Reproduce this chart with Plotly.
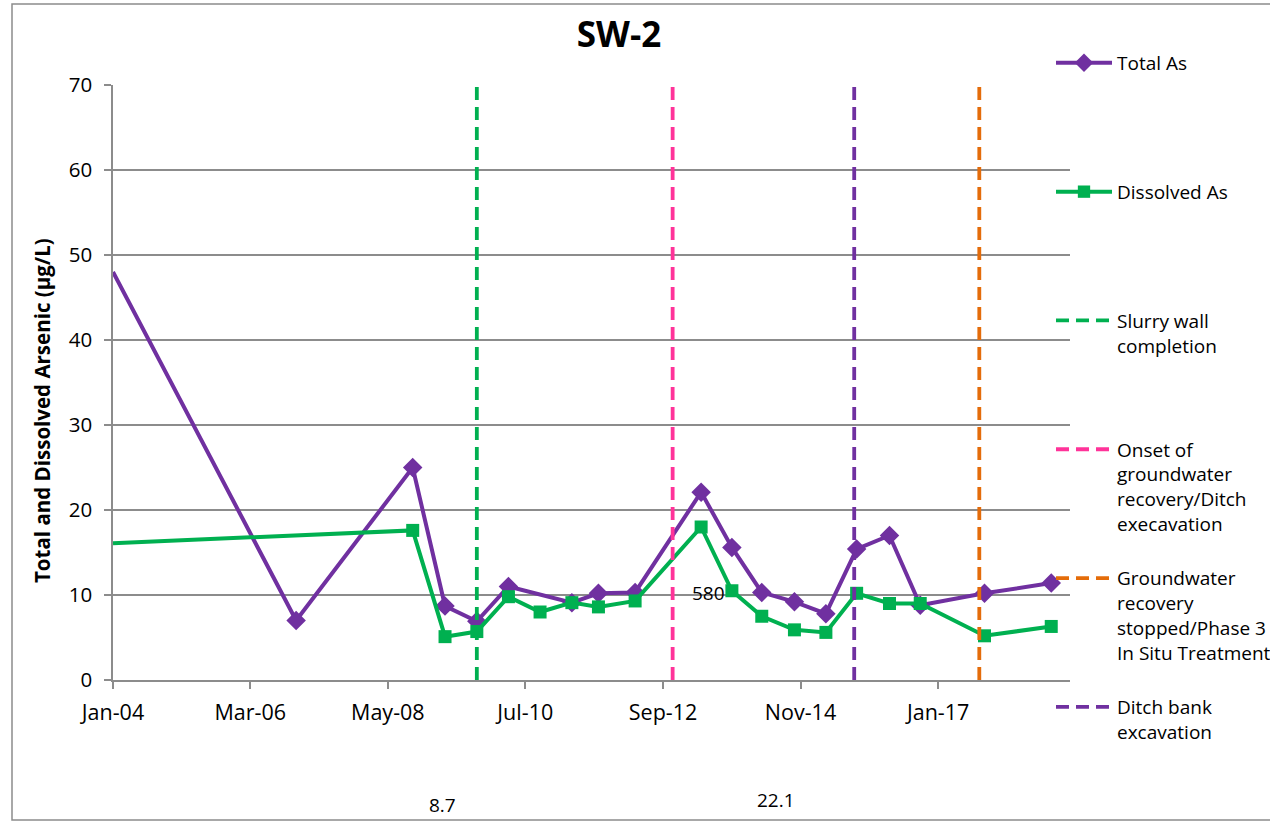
import plotly.graph_objects as go

# ---------------- data ----------------
total_dates = ["2004-01-01", "2006-11-20", "2008-09-21", "2009-03-26", "2009-09-25",
               "2010-03-26", "2011-03-26", "2011-08-26", "2012-03-24", "2013-04-08",
               "2013-10-02", "2014-03-23", "2014-09-27", "2015-03-27", "2015-09-20",
               "2016-03-27", "2016-09-20", "2017-09-25", "2018-10-14"]
total_as = [48.0, 7.0, 25.0, 8.7, 6.9, 11.0, 9.1, 10.2, 10.3, 22.1,
            15.6, 10.3, 9.2, 7.8, 15.4, 17.0, 8.8, 10.2, 11.4]

diss_dates = ["2004-01-01", "2008-09-21", "2009-03-26", "2009-09-25", "2010-03-26",
              "2010-09-24", "2011-03-26", "2011-08-26", "2012-03-24", "2013-04-08",
              "2013-10-02", "2014-03-23", "2014-09-27", "2015-03-27", "2015-09-20",
              "2016-03-27", "2016-09-20", "2017-09-25", "2018-10-14"]
dissolved_as = [16.1, 17.6, 5.1, 5.7, 9.8, 8.0, 9.1, 8.6, 9.3, 18.0,
                10.5, 7.5, 5.9, 5.6, 10.2, 9.0, 9.0, 5.2, 6.3]

event_names = ["Slurry wall<br>completion",
               "Onset of<br>groundwater<br>recovery/Ditch<br>execavation",
               "Groundwater<br>recovery<br>stopped/Phase 3<br>In Situ Treatment",
               "Ditch bank<br>excavation"]
event_dates = ["2009-09-25", "2012-10-26", "2017-08-26", "2015-09-06"]
event_colors = ["#00B050", "#FF3399", "#E46C0A", "#7030A0"]
event_y = [0, 70]

tick_dates = ["2004-01-01", "2006-03-01", "2008-05-01", "2010-07-01",
              "2012-09-01", "2014-11-01", "2017-01-01"]
tick_labels = ["Jan-04", "Mar-06", "May-08", "Jul-10", "Sep-12", "Nov-14", "Jan-17"]

stray_labels = ["580", "8.7", "22.1"]

# ---------------- style ----------------
FONT = "Open Sans"
GRID = "#8C8C8C"
L, R, T, B = 113, 1070, 85, 680
W, H = 1270, 822


def px2paper_x(px):
    return (px - L) / (R - L)


def px2paper_y(py):
    return (B - py) / (B - T)


def pad_lines(name, n=4):
    k = name.count("<br>") + 1
    return name + "<br>\u00a0" * (n - k)


fig = go.Figure()

fig.add_trace(go.Scatter(
    x=total_dates, y=total_as, mode="lines+markers", name=pad_lines("Total As"),
    line=dict(color="#7030A0", width=4),
    marker=dict(symbol="diamond", size=[0] + [15] * (len(total_as) - 1), color="#7030A0",
                opacity=1, line=dict(width=0)),
    legendgroup="g1", legendrank=1))
fig.add_trace(go.Scatter(
    x=diss_dates, y=dissolved_as, mode="lines+markers", name=pad_lines("Dissolved As"),
    line=dict(color="#00B050", width=4),
    marker=dict(symbol="square", size=[0] + [13] * (len(dissolved_as) - 1), color="#00B050",
                opacity=1, line=dict(width=0)),
    legendgroup="g2", legendrank=2))

for i, (nm, d, c) in enumerate(zip(event_names, event_dates, event_colors)):
    fig.add_trace(go.Scatter(
        x=[d, d], y=event_y, mode="lines", name=pad_lines(nm),
        line=dict(color=c, width=3.8, dash="13px,7px"),
        legendgroup="e%d" % i, legendrank=3 + i))

# stray labels
for txt, px, py in zip(stray_labels, [708, 442, 776], [593, 805, 800]):
    fig.add_annotation(text=txt, x=px2paper_x(px), y=px2paper_y(py),
                       xref="paper", yref="paper", showarrow=False,
                       xanchor="center", yanchor="middle",
                       font=dict(family=FONT, size=19, color="black"))

# y axis title
fig.add_annotation(text="<b>Total and Dissolved Arsenic (µg/L)</b>", textangle=-90,
                   x=px2paper_x(42), y=px2paper_y(411), xref="paper", yref="paper",
                   xanchor="center", yanchor="middle",
                   showarrow=False, font=dict(family=FONT, size=20.5, color="black"))

# chart border
fig.add_shape(type="rect", xref="paper", yref="paper",
              x0=px2paper_x(12), x1=px2paper_x(1300), y0=px2paper_y(820), y1=px2paper_y(4),
              line=dict(color="#8C8C8C", width=1.5), layer="below")

fig.update_layout(
    width=W, height=H,
    margin=dict(l=L, r=W - R, t=T, b=H - B, autoexpand=False),
    paper_bgcolor="white", plot_bgcolor="white",
    font=dict(family=FONT, size=19, color="black"),
    title=dict(text="<b>SW-2</b>", x=619 / W, xref="container", xanchor="center",
               y=1 - 35 / H, yref="container", yanchor="middle",
               font=dict(family=FONT, size=35, color="black")),
    showlegend=True,
    legend=dict(x=px2paper_x(1051), xanchor="left", y=px2paper_y(44), yanchor="top",
                yref="paper", xref="paper", maxheight=822,
                font=dict(family=FONT, size=19, color="black"),
                valign="top", tracegroupgap=27, itemwidth=56,
                bgcolor="rgba(0,0,0,0)", borderwidth=0),
    xaxis=dict(type="date", range=["2004-01-01", "2019-01-30"],
               tickmode="array", tickvals=tick_dates, ticktext=tick_labels,
               showgrid=False, zeroline=False, showline=True, linecolor=GRID, linewidth=1.5,
               ticks="outside", ticklen=7, tickcolor=GRID, tickwidth=1.5,
               tickfont=dict(family=FONT, size=21.5, color="black"), ticklabelstandoff=5),
    yaxis=dict(range=[0, 70], dtick=10, tick0=0,
               showgrid=True, gridcolor=GRID, gridwidth=1.5, zeroline=False,
               showline=True, linecolor=GRID, linewidth=1.5,
               ticks="outside", ticklen=7, tickcolor=GRID, tickwidth=1.5,
               tickfont=dict(family=FONT, size=20.5, color="black"), ticklabelstandoff=8),
)

fig.write_html("out.html", config={"displayModeBar": False},
               post_script="document.body.style.margin='0';document.body.style.overflow='hidden';")
